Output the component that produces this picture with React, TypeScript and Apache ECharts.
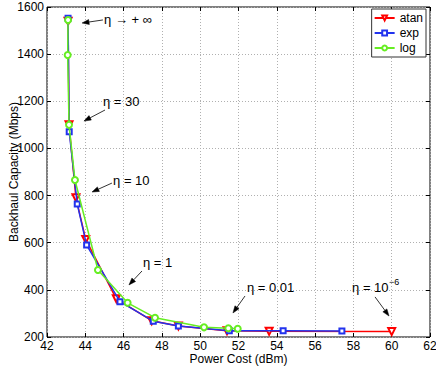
import React, { useEffect, useRef } from 'react';
import * as echarts from 'echarts';

// Series data
const atanX = [43.1, 43.15, 43.51, 44.02, 45.62, 47.47, 48.86, 51.4, 53.6, 60.0];
const atanY = [1540, 1100, 791, 614, 362, 269, 247, 226, 224, 223];
const expX = [43.1, 43.16, 43.58, 44.07, 45.81, 47.55, 48.86, 51.52, 54.33, 57.4];
const expY = [1552, 1071, 764, 590, 350, 267, 247, 227, 226, 225];
const logX = [43.1, 43.08, 43.15, 43.46, 44.66, 46.21, 47.64, 50.2, 51.47, 51.96];
const logY = [1545, 1396, 1100, 866, 484, 345, 282, 241, 237, 235];

const seriesNames = ['atan', 'exp', 'log'];

// Annotations (data coordinates): text anchor (left, middle), arrow tail, arrow head
const annLabels = ['η → + ∞', 'η = 30', 'η = 10', 'η = 1', 'η = 0.01', 'η = 10'];
const annSup = ['', '', '', '', '', '−6'];
const annTextPos = [[44.98, 1545], [44.92, 1197], [45.45, 862], [47.01, 514], [52.44, 412], [57.93, 412]];
const annTail = [[44.92, 1545], [45.03, 1163], [45.39, 853], [46.96, 480], [52.34, 374], [59.13, 370]];
const annHead = [[43.83, 1532], [43.93, 1116], [44.35, 815], [46.28, 421], [51.71, 302], [59.86, 289]];

const FONT = '"Liberation Sans", Arial, Helvetica, sans-serif';

const zip = (xs: number[], ys: number[]) => xs.map((x, i) => [x, ys[i]]);

export default function App() {
  const ref = useRef<HTMLDivElement>(null);
  useEffect(() => {
    if (!ref.current) return;
    const chart = echarts.init(ref.current, null, { renderer: 'svg' });
    const axisCommon = {
      type: 'value' as const,
      axisLine: { show: false },
      axisTick: { show: true, inside: true, length: 4, lineStyle: { color: '#000' } },
    };
    chart.setOption({
      animation: false,
      backgroundColor: '#fff',
      textStyle: { fontFamily: FONT },
      grid: {
        left: 47, top: 7, right: 6, bottom: 29,
        containLabel: false,
        outerBoundsMode: 'none',
        show: true, borderColor: '#000', borderWidth: 1, backgroundColor: 'transparent',
      },
      legend: {
        data: seriesNames,
        orient: 'vertical',
        right: 10,
        top: 9,
        backgroundColor: '#fff',
        borderColor: '#333',
        borderWidth: 1,
        borderRadius: 0,
        padding: [2, 3, 2, 2],
        itemGap: 1,
        itemWidth: 20,
        itemHeight: 6,
        itemTextGap: 3,
        textStyle: { fontSize: 12, color: '#000', fontFamily: FONT, lineHeight: 14 },
      },
      xAxis: [
        {
          ...axisCommon,
          min: 42, max: 62, interval: 2,
          name: 'Power Cost (dBm)',
          nameLocation: 'middle',
          nameGap: 16,
          nameMoveOverlap: false,
          nameTextStyle: { fontSize: 12, color: '#000', fontFamily: FONT },
          axisLabel: { fontSize: 12, color: '#000', margin: 3, fontFamily: FONT, formatter: (v: number) => String(v) },
          splitLine: { show: true, lineStyle: { type: [1, 2], color: '#b0b0b0', width: 1 } },
        },
        {
          ...axisCommon,
          position: 'top',
          min: 42, max: 62, interval: 2,
          axisLabel: { show: false },
          splitLine: { show: false },
        },
      ],
      yAxis: [
        {
          ...axisCommon,
          min: 200, max: 1600, interval: 200,
          name: 'Backhaul Capacity (Mbps)',
          nameLocation: 'middle',
          nameGap: 27,
          nameMoveOverlap: false,
          nameTextStyle: { fontSize: 12, color: '#000', fontFamily: FONT },
          axisLabel: { fontSize: 12, color: '#000', margin: 3, fontFamily: FONT, formatter: (v: number) => String(v) },
          splitLine: { show: true, lineStyle: { type: [1, 2], color: '#b0b0b0', width: 1 } },
        },
        {
          ...axisCommon,
          position: 'right',
          min: 200, max: 1600, interval: 200,
          axisLabel: { show: false },
          splitLine: { show: false },
        },
      ],
      series: [
        {
          name: 'atan', type: 'line', data: zip(atanX, atanY),
          symbol: 'emptyTriangle', symbolRotate: 180, symbolSize: 7,
          lineStyle: { color: '#ff0000', width: 1.5 },
          itemStyle: { color: '#ff0000', borderWidth: 1.3 },
          z: 2,
        },
        {
          name: 'exp', type: 'line', data: zip(expX, expY),
          symbol: 'emptyRect', symbolSize: 5,
          lineStyle: { color: '#2233ee', width: 1.5 },
          itemStyle: { color: '#2233ee', borderWidth: 1.3 },
          z: 3,
        },
        {
          name: 'log', type: 'line', data: zip(logX, logY),
          symbol: 'emptyCircle', symbolSize: 6,
          lineStyle: { color: '#66ee22', width: 1.5 },
          itemStyle: { color: '#66ee22', borderWidth: 1.3 },
          z: 4,
        },
      ],
    });

    const graphics: any[] = [];
    annLabels.forEach((lab, i) => {
      const tp = chart.convertToPixel({ gridIndex: 0 }, annTextPos[i]) as number[];
      const t = chart.convertToPixel({ gridIndex: 0 }, annTail[i]) as number[];
      const h = chart.convertToPixel({ gridIndex: 0 }, annHead[i]) as number[];
      graphics.push({
        type: 'text',
        x: tp[0], y: tp[1],
        style: { text: lab, fontSize: 13, fontFamily: FONT, fill: '#000', verticalAlign: 'middle', align: 'left' },
        z: 10,
      });
      if (annSup[i]) {
        graphics.push({
          type: 'text',
          x: tp[0] + 37, y: tp[1] - 5,
          style: { text: annSup[i], fontSize: 9, fontFamily: FONT, fill: '#000', verticalAlign: 'middle', align: 'left' },
          z: 10,
        });
      }
      const dx = h[0] - t[0];
      const dy = h[1] - t[1];
      const len = Math.sqrt(dx * dx + dy * dy) || 1;
      const ux = dx / len, uy = dy / len;
      const hl = 7, hw = 2.5;
      const bx = h[0] - ux * hl, by = h[1] - uy * hl;
      graphics.push({
        type: 'line',
        shape: { x1: t[0], y1: t[1], x2: bx, y2: by },
        style: { stroke: '#000', lineWidth: 0.8 },
        z: 10,
      });
      graphics.push({
        type: 'polygon',
        shape: { points: [[h[0], h[1]], [bx - uy * hw, by + ux * hw], [bx + uy * hw, by - ux * hw]] },
        style: { fill: '#000', stroke: '#000', lineWidth: 0.5 },
        z: 10,
      });
    });
    chart.setOption({ graphic: graphics });

    return () => chart.dispose();
  }, []);
  return <div ref={ref} style={{ position: 'fixed', left: 0, top: 0, width: 436, height: 366 }} />;
}
